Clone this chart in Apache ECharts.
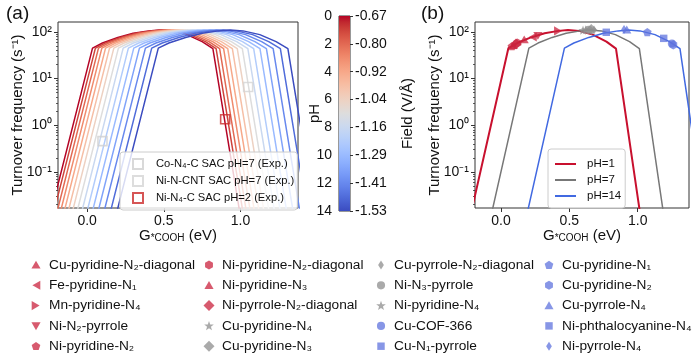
<!DOCTYPE html>
<html><head><meta charset="utf-8">
<script src="https://cdn.jsdelivr.net/npm/echarts@6/dist/echarts.min.js"></script>
<style>html,body{margin:0;padding:0;background:#fff}#c{width:700px;height:357px}</style>
</head><body><div id="c"></div>
<script>
// ---------------- data ----------------
const xTickValues = [0, 0.5, 1.0];
const xTickLabels = ['0.0', '0.5', '1.0'];
const yTickValues = [-1, 0, 1, 2];                 // log10(TOF)
const yTickLabels = ['10⁻¹', '10⁰', '10¹', '10²'];
const cbTickValues = [0, 2, 4, 6, 8, 10, 12, 14];  // pH
const fieldLabels = ['-0.67', '-0.80', '-0.92', '-1.04', '-1.16', '-1.29', '-1.41', '-1.53'];

// log10(TOF) of the volcano curve points (shared by all pH curves)
const curveLogTOF = [-2.2, 1.65, 1.76, 1.88, 1.97, 2.02, 2.04, 2.02, 1.94, 1.79, 1.64, -2.2];
// G*COOH (eV) of those points for each pH
const g_pH0  = [-0.262, 0.035, 0.100, 0.200, 0.300, 0.400, 0.470, 0.550, 0.650, 0.750, 0.820, 1.012];
const g_pH1  = [-0.244, 0.054, 0.119, 0.219, 0.319, 0.420, 0.490, 0.570, 0.671, 0.771, 0.841, 1.033];
const g_pH2  = [-0.223, 0.074, 0.139, 0.240, 0.341, 0.441, 0.512, 0.592, 0.693, 0.794, 0.864, 1.056];
const g_pH3  = [-0.201, 0.096, 0.162, 0.263, 0.364, 0.465, 0.536, 0.617, 0.718, 0.819, 0.890, 1.082];
const g_pH4  = [-0.177, 0.120, 0.186, 0.288, 0.390, 0.491, 0.562, 0.643, 0.745, 0.846, 0.917, 1.109];
const g_pH5  = [-0.151, 0.146, 0.212, 0.315, 0.417, 0.519, 0.590, 0.671, 0.774, 0.875, 0.947, 1.139];
const g_pH6  = [-0.123, 0.174, 0.241, 0.343, 0.446, 0.548, 0.620, 0.702, 0.804, 0.907, 0.979, 1.171];
const g_pH7  = [-0.093, 0.204, 0.271, 0.374, 0.477, 0.580, 0.652, 0.734, 0.837, 0.940, 1.012, 1.204];
const g_pH8  = [-0.062, 0.235, 0.302, 0.406, 0.510, 0.613, 0.686, 0.768, 0.872, 0.975, 1.048, 1.240];
const g_pH9  = [-0.028, 0.269, 0.336, 0.441, 0.545, 0.649, 0.722, 0.805, 0.909, 1.013, 1.086, 1.278];
const g_pH10 = [0.007, 0.304, 0.372, 0.477, 0.583, 0.687, 0.761, 0.843, 0.949, 1.053, 1.127, 1.319];
const g_pH11 = [0.044, 0.341, 0.409, 0.515, 0.621, 0.726, 0.801, 0.884, 0.990, 1.094, 1.169, 1.361];
const g_pH12 = [0.083, 0.380, 0.449, 0.556, 0.662, 0.768, 0.843, 0.926, 1.033, 1.138, 1.213, 1.405];
const g_pH13 = [0.125, 0.421, 0.490, 0.598, 0.705, 0.811, 0.887, 0.971, 1.079, 1.184, 1.260, 1.452];
const g_pH14 = [0.167, 0.464, 0.533, 0.642, 0.750, 0.857, 0.933, 1.017, 1.126, 1.232, 1.309, 1.501];
const curveG = [g_pH0, g_pH1, g_pH2, g_pH3, g_pH4, g_pH5, g_pH6, g_pH7, g_pH8, g_pH9, g_pH10, g_pH11, g_pH12, g_pH13, g_pH14];

// experimental points, panel (a)
const expNames = ['Co-N₄-C SAC pH=7 (Exp.)', 'Ni-N-CNT SAC pH=7 (Exp.)', 'Ni-N₄-C SAC pH=2 (Exp.)'];
const expG = [0.10, 1.05, 0.90];
const expLogTOF = [-0.34, 0.82, 0.13];

// panel (b) curves
const bNames = ['pH=1', 'pH=7', 'pH=14'];
const bCurveG = [g_pH1, g_pH7, g_pH14];

// panel (b) materials
const matNames = [
  'Cu-pyridine-N₂-diagonal', 'Fe-pyridine-N₁', 'Mn-pyridine-N₄', 'Ni-N₂-pyrrole', 'Ni-pyridine-N₂',
  'Ni-pyridine-N₂-diagonal', 'Ni-pyridine-N₃', 'Ni-pyrrole-N₂-diagonal', 'Cu-pyridine-N₄', 'Cu-pyridine-N₃',
  'Cu-pyrrole-N₂-diagonal', 'Ni-N₃-pyrrole', 'Ni-pyridine-N₄', 'Cu-COF-366', 'Cu-N₁-pyrrole',
  'Cu-pyridine-N₁', 'Cu-pyridine-N₂', 'Cu-pyrrole-N₄', 'Ni-phthalocyanine-N₄', 'Ni-pyrrole-N₄'];
const matG = [0.09, 0.23, 0.42, 0.27, 0.08, 0.12, 0.17, 0.11, 0.62, 0.66, 0.68, 0.64, 0.60, 1.25, 1.19, 1.07, 1.26, 0.92, 0.77, 0.90];
const matLogTOF = [1.71, 1.89, 2.02, 1.92, 1.69, 1.76, 1.83, 1.74, 2.04, 2.05, 2.04, 2.04, 2.03, 1.75, 1.86, 1.99, 1.72, 2.04, 1.99, 2.05];
const matGroup = [0, 0, 0, 0, 0, 0, 0, 0, 1, 1, 1, 1, 1, 2, 2, 2, 2, 2, 2, 2];

// ---------------- styles ----------------
const FF = "'Liberation Sans', Arial, sans-serif";
const TXT = '#111';
const lineColors = ['#b40426', '#ce433b', '#e26953', '#f08b6d', '#f7a889', '#f6bfa6', '#edd1c2', '#dddddd',
  '#c9d8f0', '#b2ccfb', '#9abaff', '#80a3fa', '#6889ee', '#506cda', '#3b4cc0'];
const coolwarm = [[59,76,192],[68,90,204],[77,104,215],[87,117,225],[98,130,234],[108,142,241],[119,154,247],
  [130,165,251],[141,176,254],[152,185,255],[163,194,255],[174,201,253],[184,208,249],[194,213,244],[204,217,238],
  [213,219,230],[221,221,221],[229,216,209],[236,211,197],[241,204,185],[245,196,173],[247,187,160],[247,177,148],
  [247,166,135],[244,154,123],[241,141,111],[236,127,99],[229,112,88],[222,96,77],[213,80,66],[203,62,56],[192,40,47],[180,4,38]];
const expColors = ['#cfcfcf', '#d4d4d4', '#cc2b2b'];
const bColors = ['#c8102e', '#777777', '#4169e1'];
const bWidths = [2, 1.5, 1.5];
const groupColors = ['#c9233d', '#8d8d8d', '#5f73dd'];
const F = 'path://M0,0M100,100';
const SYM = {
  triUp: F + 'M50,14L88,80L12,80Z',
  triDown: F + 'M12,20L88,20L50,86Z',
  triLeft: F + 'M20,50L86,12L86,88Z',
  triRight: F + 'M14,12L80,50L14,88Z',
  pent: F + 'M50,14L86.1,40.3L72.3,82.7L27.7,82.7L13.9,40.3Z',
  hex: F + 'M50,12L82.9,31L82.9,69L50,88L17.1,69L17.1,31Z',
  diam: F + 'M50,4L96,50L50,96L4,50Z',
  thin: F + 'M50,12L74,50L50,88L26,50Z',
  star: F + 'M50,10L60,38.2L89.9,39L66.2,57.3L74.7,86L50,69L25.3,86L33.8,57.3L10.1,39L40,38.2Z',
  circ: F + 'M16,50A34,34 0 1,0 84,50A34,34 0 1,0 16,50Z',
  sq: F + 'M19,19L81,19L81,81L19,81Z'
};
const matSymbols = [SYM.triUp, SYM.triLeft, SYM.triRight, SYM.triDown, SYM.pent, SYM.hex, SYM.triUp, SYM.diam,
  SYM.star, SYM.diam, SYM.thin, SYM.circ, SYM.star, SYM.circ, SYM.sq, SYM.pent, SYM.hex, SYM.triUp, SYM.sq, SYM.thin];

// ---------------- axes helpers ----------------
const X_MIN = -0.19, X_MAX = 1.375, Y_MIN = -1.77, Y_MAX = 2.21;
const minorTicks = [];
for (let n = -2; n <= 2; n++) for (let k = 2; k <= 9; k++) {
  const v = n + Math.log10(k);
  if (v > Y_MIN && v < Y_MAX) minorTicks.push(v);
}
const gName = '{g|G}{s|*COOH}{g| (eV)}';
function xAxisMain(gi) {
  return {
    type: 'value', gridIndex: gi, min: X_MIN, max: X_MAX, position: 'bottom',
    axisLine: { show: false, onZero: false }, splitLine: { show: false },
    axisTick: { show: true, customValues: xTickValues, length: 4, lineStyle: { color: '#333', width: 1 } },
    axisLabel: { customValues: xTickValues, margin: 6, fontSize: 14, color: TXT, fontFamily: FF,
      formatter: v => xTickLabels[xTickValues.findIndex(t => Math.abs(t - v) < 1e-9)] },
    name: gName, nameLocation: 'middle', nameGap: 20, nameMoveOverlap: false,
    nameTextStyle: { rich: {
      g: { fontSize: 15, lineHeight: 15, verticalAlign: 'bottom', color: TXT, fontFamily: FF },
      s: { fontSize: 10, lineHeight: 8, verticalAlign: 'bottom', color: TXT, fontFamily: FF } } }
  };
}
function yAxisMain(gi) {
  return {
    type: 'value', gridIndex: gi, min: Y_MIN, max: Y_MAX, position: 'left',
    axisLine: { show: false, onZero: false }, splitLine: { show: false },
    axisTick: { show: true, customValues: yTickValues, length: 4, lineStyle: { color: '#333', width: 1 } },
    axisLabel: { customValues: yTickValues, margin: 6, fontSize: 14, color: TXT, fontFamily: FF,
      formatter: v => yTickLabels[yTickValues.findIndex(t => Math.abs(t - v) < 1e-9)] },
    name: 'Turnover frequency (s⁻¹)', nameLocation: 'middle', nameGap: 33, nameMoveOverlap: false,
    nameTextStyle: { fontSize: 15, color: TXT, fontFamily: FF }
  };
}
function yAxisMinor(gi) {
  return {
    type: 'value', gridIndex: gi, min: Y_MIN, max: Y_MAX, position: 'left', offset: 0,
    axisLine: { show: false, onZero: false }, splitLine: { show: false },
    axisTick: { show: true, customValues: minorTicks, length: 2, lineStyle: { color: '#333', width: 0.8 } },
    axisLabel: { show: false }
  };
}
const gridStyle = { show: true, borderColor: '#333', borderWidth: 1, backgroundColor: 'transparent', containLabel: false };

// ---------------- series ----------------
const series = [];
curveG.forEach((g, p) => {
  series.push({ type: 'line', xAxisIndex: 0, yAxisIndex: 0, symbol: 'none', silent: true, clip: true, z: 2,
    data: g.map((x, i) => [x, curveLogTOF[i]]),
    lineStyle: { width: 1.5, color: lineColors[p] } });
});
expNames.forEach((n, i) => {
  series.push({ type: 'scatter', name: n, xAxisIndex: 0, yAxisIndex: 0, symbol: 'rect', symbolSize: 9, z: 4,
    data: [[expG[i], expLogTOF[i]]],
    itemStyle: { color: 'rgba(255,255,255,0)', borderColor: expColors[i], borderWidth: 1.6 } });
});
const cbStops = coolwarm.slice().reverse().map((c, i, a) => ({ offset: i / (a.length - 1), color: 'rgb(' + c.join(',') + ')' }));
series.push({ type: 'bar', xAxisIndex: 1, yAxisIndex: 2, data: [cbTickValues[cbTickValues.length - 1]], barWidth: '100%', silent: true,
  itemStyle: { color: new echarts.graphic.LinearGradient(0, 0, 0, 1, cbStops) } });
bCurveG.forEach((g, j) => {
  series.push({ type: 'line', name: bNames[j], xAxisIndex: 2, yAxisIndex: 4, symbol: 'none', clip: true, z: 2,
    data: g.map((x, i) => [x, curveLogTOF[i]]),
    lineStyle: { width: bWidths[j], color: bColors[j] }, itemStyle: { color: bColors[j], opacity: 0 } });
});
matNames.forEach((n, i) => {
  series.push({ type: 'scatter', name: n, xAxisIndex: 2, yAxisIndex: 4, symbol: matSymbols[i], symbolSize: 12, z: 5,
    data: [[matG[i], matLogTOF[i]]],
    itemStyle: { color: groupColors[matGroup[i]], opacity: 0.75 } });
});

// ---------------- legends ----------------
const legends = [
  { data: expNames, left: 120, top: 152, orient: 'vertical', itemWidth: 10, itemHeight: 10, itemGap: 5,
    padding: [6, 3, 6, 12], backgroundColor: 'rgba(255,255,255,0.8)', borderColor: '#ccc', borderWidth: 1, borderRadius: 3,
    textStyle: { fontSize: 11.2, color: TXT, fontFamily: FF, padding: [0, 0, 0, 8] }, selectedMode: false },
  { data: bNames, left: 548, top: 149, orient: 'vertical', itemWidth: 21, itemHeight: 10, itemGap: 4,
    padding: [9, 4, 6, 6], backgroundColor: 'rgba(255,255,255,0.8)', borderColor: '#ccc', borderWidth: 1, borderRadius: 3,
    textStyle: { fontSize: 11.5, color: TXT, fontFamily: FF, padding: [0, 0, 0, 6] }, selectedMode: false }
];
const colLefts = [30, 203, 375, 543];
for (let c = 0; c < 4; c++) {
  legends.push({ data: matNames.slice(c * 5, c * 5 + 5), left: colLefts[c], top: 258, height: 110, orient: 'vertical',
    itemWidth: 12, itemHeight: 12, itemGap: 6.3, padding: 0, selectedMode: false,
    textStyle: { fontSize: 13.7, color: TXT, fontFamily: FF, padding: [0, 0, 0, 2] } });
}

const option = {
  animation: false,
  backgroundColor: '#fff',
  textStyle: { fontFamily: FF },
  title: [
    { text: '(a)', left: 6, top: 4, padding: 0, textStyle: { fontSize: 19, fontWeight: 'normal', color: TXT, fontFamily: FF } },
    { text: '(b)', left: 421, top: 4, padding: 0, textStyle: { fontSize: 19, fontWeight: 'normal', color: TXT, fontFamily: FF } }
  ],
  grid: [
    Object.assign({ left: 58, top: 22, width: 240, height: 186 }, gridStyle),
    Object.assign({ left: 339, top: 16, width: 11, height: 195 }, gridStyle),
    Object.assign({ left: 475, top: 22, width: 214, height: 186 }, gridStyle)
  ],
  xAxis: [
    xAxisMain(0),
    { type: 'category', gridIndex: 1, data: ['cb'], show: false, boundaryGap: true },
    xAxisMain(2)
  ],
  yAxis: [
    yAxisMain(0), yAxisMinor(0),
    { type: 'value', gridIndex: 1, min: 0, max: 14, interval: 2, inverse: true, position: 'left',
      axisLine: { show: false, onZero: false }, splitLine: { show: false }, axisTick: { show: false },
      axisLabel: { fontSize: 14, margin: 7, color: TXT, fontFamily: FF },
      name: 'pH', nameLocation: 'middle', nameGap: 17, nameMoveOverlap: false,
      nameTextStyle: { fontSize: 15, color: TXT, fontFamily: FF } },
    { type: 'value', gridIndex: 1, min: 0, max: 14, interval: 2, inverse: true, position: 'right',
      axisLine: { show: false, onZero: false }, splitLine: { show: false },
      axisTick: { show: true, length: 3, lineStyle: { color: '#333' } },
      axisLabel: { fontSize: 14, margin: 5, color: TXT, fontFamily: FF,
        formatter: v => fieldLabels[cbTickValues.indexOf(v)] },
      name: 'Field (V/Å)', nameLocation: 'middle', nameGap: 50, nameRotate: 90, nameMoveOverlap: false,
      nameTextStyle: { fontSize: 15, color: TXT, fontFamily: FF } },
    yAxisMain(2), yAxisMinor(2)
  ],
  legend: legends,
  series: series
};
const chart = echarts.init(document.getElementById('c'), null, { renderer: 'canvas' });
chart.setOption(option);
</script></body></html>
